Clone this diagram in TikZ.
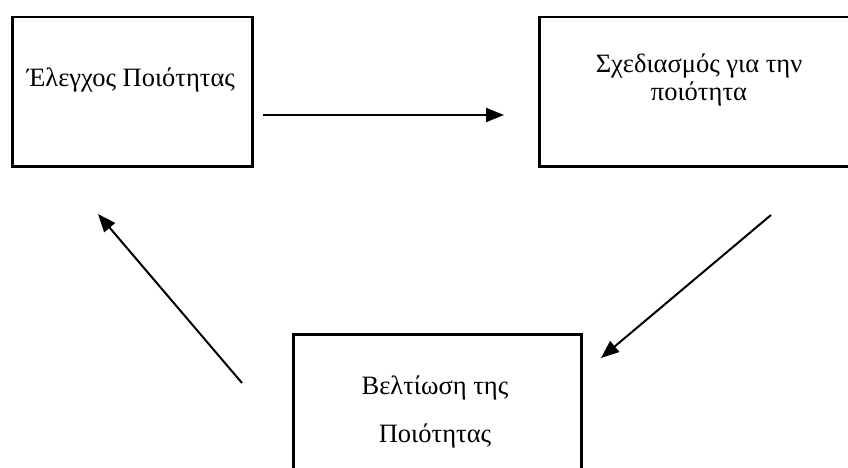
\documentclass[tikz,border=0pt]{standalone}
\usepackage{fontspec}
\setmainfont{Liberation Serif}
\usetikzlibrary{arrows.meta}
\tikzset{
  boxnode/.style={draw, line width=2.5pt, anchor=north west, inner sep=0pt},
  label/.style={anchor=base, inner sep=0pt, font=\fontsize{26.5}{32}\selectfont},
  flow/.style={line width=2pt, -{Triangle[length=18pt,width=14pt]}},
}
\begin{document}
\begin{tikzpicture}[x=1pt,y=-1pt]
  \useasboundingbox (0,0) rectangle (848,468);
  \clip (0,0) rectangle (848,468);
  % three boxes of the quality cycle
  \node[boxnode, minimum width=240pt, minimum height=149pt] (check) at (11,16) {};
  \node[boxnode, minimum width=324pt, minimum height=149pt] (plan) at (538,16) {};
  \node[boxnode, minimum width=288pt, minimum height=160pt] (improve) at (292,333) {};
  % texts
  \node[label] (t1) at (131,87) {Έλεγχος Ποιότητας};
  \node[label] (t2a) at (699,73) {Σχεδιασμός για την};
  \node[label] (t2b) at (699,101) {ποιότητα};
  \node[label] (t3a) at (435,394) {Βελτίωση της};
  \node[label] (t3b) at (435,442) {Ποιότητας};
  % arrow ends
  \coordinate (a1s) at (263,115);
  \coordinate (a1e) at (504,115);
  \coordinate (a2s) at (771,215);
  \coordinate (a2e) at (601,358);
  \coordinate (a3s) at (242,383);
  \coordinate (a3e) at (98,214);
  \draw[flow] (a1s) -- (a1e);
  \draw[flow] (a2s) -- (a2e);
  \draw[flow] (a3s) -- (a3e);
\end{tikzpicture}
\end{document}
